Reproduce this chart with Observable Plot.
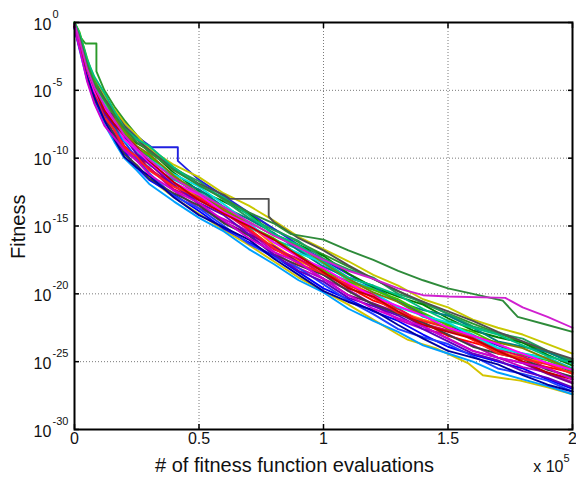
<!DOCTYPE html>
<html>
<head>
<meta charset="utf-8">
<script src="https://cdn.jsdelivr.net/npm/d3@7"></script>
<script src="https://cdn.jsdelivr.net/npm/@observablehq/plot@0.6"></script>
<style>
  html, body { margin: 0; padding: 0; background: #fff; }
  #chart { width: 576px; height: 485px; overflow: hidden; }
</style>
</head>
<body>
<div id="chart"></div>
<script>
// x: number of fitness function evaluations
const evals = [0, 2000, 5000, 8000, 12000, 16000, 20000, 25000, 30000, 40000, 50000, 60000, 70000, 80000, 90000, 100000, 110000, 120000, 130000, 140000, 150000, 160000, 170000, 180000, 190000, 200000];

// each run: log10(fitness) at each entry of evals
const runs = [
  [0, -0.8, -2.8, -4.1, -5.4, -6.4, -7.4, -8.3, -9.3, -10.5, -11.4, -12.6, -13.5, -14.6, -15.8, -16.7, -17.6, -18.6, -19.4, -20.4, -21.0, -21.9, -22.5, -23.0, -23.7, -24.4],
  [-0.3, -1.7, -4.0, -5.8, -7.3, -8.2, -9.5, -10.7, -11.6, -12.7, -13.9, -15.2, -16.2, -17.2, -18.4, -19.6, -20.4, -21.3, -22.0, -23.0, -23.9, -24.5, -25.0, -25.5, -26.3, -27.0],
  [-0.2, -1.1, -3.4, -5.2, -6.5, -7.4, -8.3, -9.5, -10.5, -11.6, -12.5, -13.7, -15.1, -16.0, -16.7, -17.8, -19.0, -19.6, -20.6, -21.7, -22.2, -23.0, -24.0, -24.4, -24.7, -25.5],
  [-0.4, -1.9, -3.7, -5.4, -7.1, -8.4, -9.3, -10.1, -10.7, -12.4, -13.7, -14.5, -15.4, -16.9, -18.1, -18.9, -19.7, -20.8, -21.9, -22.6, -23.0, -23.8, -24.7, -25.4, -25.8, -26.5],
  [-0.1, -1.0, -2.9, -4.6, -5.8, -6.7, -8.1, -8.9, -9.4, -11.1, -12.4, -13.2, -14.1, -15.6, -16.4, -17.2, -18.5, -19.5, -20.2, -20.8, -21.8, -22.7, -23.2, -23.6, -24.5, -25.3],
  [-0.2, -1.5, -3.9, -5.2, -6.3, -7.7, -9.1, -9.9, -10.4, -12.1, -13.0, -13.8, -15.2, -16.7, -17.5, -18.2, -19.5, -20.5, -21.1, -22.1, -23.1, -23.6, -24.1, -25.0, -25.4, -25.8],
  [-0.3, -1.2, -3.1, -4.3, -5.9, -7.2, -8.0, -9.2, -10.3, -11.9, -12.8, -13.6, -14.9, -16.4, -17.6, -18.3, -19.1, -20.1, -21.3, -21.9, -22.4, -23.4, -24.3, -24.7, -25.1, -25.9],
  [-0.4, -2.0, -4.2, -5.9, -7.5, -8.8, -10.0, -10.9, -11.9, -13.2, -14.4, -15.4, -16.7, -17.8, -19.0, -19.9, -21.1, -22.0, -22.8, -23.8, -24.4, -25.0, -25.8, -26.3, -26.8, -27.4],
  [-0.1, -0.9, -3.2, -4.4, -5.6, -6.9, -7.7, -8.5, -9.6, -10.8, -11.7, -13.1, -14.4, -15.3, -16.1, -17.4, -18.2, -18.8, -20.0, -20.6, -21.5, -22.4, -22.9, -23.3, -24.2, -24.9],
  [-0.3, -1.6, -3.6, -5.0, -6.1, -7.0, -8.4, -9.7, -10.8, -12.0, -13.4, -14.7, -15.6, -16.5, -17.7, -18.9, -20.1, -20.7, -21.4, -22.4, -23.3, -24.2, -24.7, -25.1, -25.9, -26.6],
  [-0.2, -1.0, -3.3, -4.7, -6.4, -7.7, -8.6, -9.3, -9.9, -11.5, -12.3, -13.6, -14.5, -15.5, -16.8, -18.0, -18.8, -19.4, -20.6, -21.2, -21.6, -22.5, -23.5, -23.9, -24.3, -25.1],
  [-0.4, -1.8, -4.1, -5.4, -6.6, -7.9, -8.8, -10.0, -11.1, -12.8, -13.7, -15.0, -16.3, -17.3, -18.1, -19.3, -20.5, -21.5, -22.6, -23.2, -23.7, -24.6, -25.5, -25.9, -26.4, -27.2],
  [0, -0.7, -2.6, -4.3, -5.9, -6.8, -8.1, -9.3, -9.8, -11.4, -12.8, -13.7, -15.0, -15.9, -17.1, -18.3, -19.1, -19.7, -20.4, -21.4, -22.3, -22.8, -23.7, -24.5, -24.9, -25.7],
  [-0.3, -1.4, -3.2, -4.9, -6.6, -8.0, -9.4, -10.2, -10.7, -12.3, -13.1, -14.0, -15.3, -16.7, -17.4, -18.6, -19.4, -20.0, -21.1, -22.2, -22.7, -23.2, -24.1, -24.6, -25.5, -26.2],
  [-0.2, -1.7, -4.0, -5.7, -6.9, -8.3, -9.7, -10.5, -11.5, -12.6, -13.5, -14.8, -15.7, -17.1, -17.9, -18.6, -19.8, -20.8, -21.5, -22.1, -23.0, -23.9, -24.4, -24.8, -25.6, -26.1],
  [-0.1, -1.1, -3.0, -4.8, -6.0, -7.3, -8.7, -9.5, -10.1, -11.2, -12.1, -13.4, -14.8, -16.2, -17.0, -17.7, -18.9, -19.9, -21.0, -21.6, -22.1, -23.1, -24.0, -24.4, -24.8, -25.6],
  [-0.4, -1.8, -3.8, -5.1, -6.7, -7.6, -8.4, -9.7, -10.4, -12.0, -13.3, -14.2, -15.6, -17.1, -18.3, -19.1, -20.3, -20.9, -21.6, -22.6, -23.5, -24.4, -24.9, -25.7, -26.2, -26.9],
  [-0.2, -1.3, -3.6, -5.3, -7.0, -7.9, -9.2, -9.9, -10.9, -12.1, -12.9, -13.8, -15.2, -16.6, -17.8, -18.5, -19.3, -20.3, -21.4, -22.0, -22.5, -23.4, -24.4, -24.8, -25.2, -25.9],
  [-0.1, -0.9, -3.1, -4.8, -6.3, -7.1, -7.9, -9.1, -9.7, -11.3, -12.6, -13.9, -14.7, -15.7, -16.5, -17.7, -18.9, -19.9, -20.6, -21.6, -22.6, -23.1, -23.6, -24.0, -24.8, -25.6],
  [-0.3, -1.5, -3.8, -5.5, -7.2, -8.6, -9.9, -10.7, -11.3, -12.9, -14.2, -15.1, -16.0, -17.4, -18.6, -19.8, -20.6, -21.2, -22.3, -23.3, -24.2, -24.7, -25.2, -26.0, -26.7, -27.2],
  [-0.2, -1.2, -3.5, -5.1, -6.3, -7.3, -8.6, -9.4, -10.3, -11.8, -12.7, -14.0, -14.9, -16.2, -17.3, -18.1, -19.2, -20.2, -20.9, -21.6, -22.5, -23.1, -23.7, -24.4, -25.1, -25.6],
  [-0.3, -1.6, -3.5, -4.8, -6.5, -7.5, -8.3, -9.2, -10.2, -11.8, -13.1, -14.1, -15.0, -16.0, -17.2, -18.4, -19.6, -20.2, -21.3, -22.3, -22.8, -23.3, -24.2, -25.0, -25.8, -26.3],
  [0, -0.8, -2.7, -4.0, -5.2, -6.5, -7.8, -8.6, -9.1, -10.7, -12.0, -12.9, -14.2, -15.6, -16.4, -17.6, -18.8, -19.4, -20.1, -21.1, -22.0, -22.5, -23.0, -23.8, -24.6, -25.1],
  [-0.4, -1.9, -4.3, -6.0, -7.6, -8.5, -9.4, -10.2, -11.2, -12.4, -13.3, -14.6, -15.9, -16.9, -17.7, -18.9, -20.1, -21.1, -21.8, -22.4, -23.3, -24.2, -24.7, -25.1, -25.5, -26.3]
];

const runColors = [
  "#c8c800", "#0000ff", "#00bfbf", "#bf00bf", "#008000", "#ff0000", "#ff8000", "#00a0ff",
  "#20a060", "#800080", "#008080", "#2040ff", "#40c000", "#e00060", "#404040", "#00e0e0",
  "#6000c0", "#ff2020", "#808000", "#0000a0", "#ff00ff", "#c00000", "#00c080", "#d000d0"
];

// runs with their own evaluation points (plateaus / outliers)
const plateauGrayEvals = [0, 2000, 5000, 8000, 12000, 16000, 20000, 25000, 30000, 40000, 50000, 60000, 62500, 78000, 78000, 80000, 90000, 100000, 110000, 120000, 130000, 140000, 150000, 160000, 170000, 180000, 190000, 200000];
const plateauGrayRun   = [-0.1, -1.1, -3.0, -4.3, -5.6, -6.6, -7.6, -8.6, -9.4, -10.8, -11.9, -12.7, -13.0, -13.0, -14.3, -14.7, -15.9, -16.8, -17.9, -18.9, -19.8, -20.6, -21.3, -22.0, -22.8, -23.5, -24.2, -24.8];

const plateauGreenEvals = [0, 2000, 4400, 8800, 8800, 12000, 16000, 20000, 25000, 30000, 40000, 50000, 60000, 70000, 80000, 90000, 100000, 120000, 140000, 160000, 180000, 200000];
const plateauGreenRun   = [0, -1.0, -1.55, -1.55, -3.6, -5.0, -6.2, -7.2, -8.3, -9.2, -10.7, -11.9, -13.0, -14.1, -15.2, -16.2, -17.1, -18.9, -20.7, -22.2, -23.6, -25.0];

const plateauBlueEvals = [0, 2000, 5000, 8000, 12000, 16000, 20000, 25000, 31000, 41500, 41500, 50000, 60000, 70000, 80000, 90000, 100000, 120000, 140000, 160000, 180000, 200000];
const plateauBlueRun   = [-0.1, -1.1, -3.0, -4.2, -5.4, -6.5, -7.4, -8.4, -9.2, -9.2, -10.2, -11.6, -12.8, -14.0, -15.2, -16.4, -17.5, -19.6, -21.5, -23.1, -24.5, -25.8];

const bottomYellowEvals = [0, 2000, 5000, 8000, 12000, 16000, 20000, 25000, 30000, 40000, 50000, 60000, 70000, 80000, 90000, 100000, 110000, 120000, 130000, 134000, 145000, 158000, 164000, 179000, 190000, 200000];
const bottomYellowRun   = [-0.3, -1.8, -3.9, -5.6, -7.2, -8.5, -9.6, -10.6, -11.5, -12.9, -14.1, -15.3, -16.4, -17.6, -18.8, -19.8, -20.8, -21.9, -23.0, -23.4, -24.0, -25.1, -26.0, -26.4, -26.9, -27.4];

const topGreenEvals = [0, 2000, 5000, 8000, 12000, 16000, 20000, 25000, 30000, 40000, 50000, 60000, 70000, 80000, 87000, 100000, 110000, 120000, 130000, 140000, 150000, 160000, 172000, 178000, 190000, 200000];
const topGreenRun   = [-0.1, -1.0, -3.0, -4.5, -5.7, -6.8, -7.8, -8.8, -9.5, -10.9, -12.0, -13.0, -14.0, -14.8, -15.6, -16.0, -16.8, -17.5, -18.3, -19.0, -19.6, -20.0, -20.5, -21.7, -22.3, -22.8];

const topMagentaEvals = [0, 2000, 5000, 8000, 12000, 16000, 20000, 25000, 30000, 40000, 50000, 60000, 70000, 80000, 90000, 100000, 110000, 120000, 130000, 140000, 150000, 173000, 180000, 190000, 200000];
const topMagentaRun   = [-0.1, -1.3, -3.4, -4.8, -6.1, -7.2, -8.3, -9.3, -10.1, -11.5, -12.6, -13.6, -14.7, -15.7, -16.6, -17.5, -18.3, -18.9, -19.6, -20.1, -20.2, -20.3, -21.0, -21.7, -22.5];

const specialColors = ["#2a9a2a", "#2020e0", "#505050", "#d4c400", "#2e8b3a", "#d020d0"];

const xTicks = [0, 50000, 100000, 150000, 200000];
const xGrid = [50000, 100000, 150000];
const yExps = [0, -5, -10, -15, -20, -25, -30];
const yGridExps = [-5, -10, -15, -20, -25];

const toPts = (xs, ys) => ys.map((e, j) => ({x: xs[j], y: Math.pow(10, e)}));
const lw = 1.9;

const lineMarks = [];
lineMarks.push(Plot.line(toPts(plateauGreenEvals, plateauGreenRun), {x: "x", y: "y", stroke: specialColors[0], strokeWidth: lw}));
lineMarks.push(Plot.line(toPts(plateauBlueEvals, plateauBlueRun), {x: "x", y: "y", stroke: specialColors[1], strokeWidth: lw}));
lineMarks.push(Plot.line(toPts(bottomYellowEvals, bottomYellowRun), {x: "x", y: "y", stroke: specialColors[3], strokeWidth: lw}));
runs.forEach((r, i) => {
  if (i === 12) {
    lineMarks.push(Plot.line(toPts(plateauGrayEvals, plateauGrayRun), {x: "x", y: "y", stroke: specialColors[2], strokeWidth: lw}));
  }
  lineMarks.push(Plot.line(toPts(evals, r), {x: "x", y: "y", stroke: runColors[i % runColors.length], strokeWidth: lw}));
});
lineMarks.push(Plot.line(toPts(topGreenEvals, topGreenRun), {x: "x", y: "y", stroke: specialColors[4], strokeWidth: lw}));
lineMarks.push(Plot.line(toPts(topMagentaEvals, topMagentaRun), {x: "x", y: "y", stroke: specialColors[5], strokeWidth: lw}));

const font = "'Liberation Sans', Arial, Helvetica, sans-serif";

const chart = Plot.plot({
  width: 576,
  height: 485,
  marginLeft: 74,
  marginRight: 4,
  marginTop: 22,
  marginBottom: 56,
  style: {fontFamily: font, fontSize: "16px", background: "#fff", color: "#000"},
  x: {domain: [0, 200000], axis: null},
  y: {type: "log", domain: [1e-30, 1], axis: null},
  marks: [
    Plot.ruleX(xGrid, {x: d => d, stroke: "#7a7a7a", strokeDasharray: "1,2", strokeWidth: 1}),
    Plot.ruleY(yGridExps, {y: d => Math.pow(10, d), stroke: "#7a7a7a", strokeDasharray: "1,2", strokeWidth: 1}),
    ...lineMarks,
    Plot.axisX({anchor: "bottom", ticks: xTicks, tickSize: -5, tickFormat: () => "", label: null, strokeWidth: 1.5}),
    Plot.axisX({anchor: "top", ticks: xTicks, tickSize: -5, tickFormat: () => "", label: null, strokeWidth: 1.5}),
    Plot.axisY({anchor: "left", ticks: yExps.map(e => Math.pow(10, e)), tickSize: -5, tickFormat: () => "", label: null, strokeWidth: 1.5}),
    Plot.axisY({anchor: "right", ticks: yExps.map(e => Math.pow(10, e)), tickSize: -5, tickFormat: () => "", label: null, strokeWidth: 1.5}),
    Plot.frame({stroke: "#000", strokeWidth: 2}),
    // y tick labels: 10 with superscript exponent
    Plot.text(yExps, {y: d => Math.pow(10, d), frameAnchor: "left", dx: -41, dy: 2, textAnchor: "start", text: () => "10", fontSize: 16, fill: "#111"}),
    Plot.text(yExps, {y: d => Math.pow(10, d), frameAnchor: "left", dx: -22, dy: -8, textAnchor: "start", text: d => String(d), fontSize: 11, fill: "#111"}),
    // x tick labels
    Plot.text(xTicks, {x: d => d, frameAnchor: "bottom", dy: 14, text: d => String(d / 100000), fontSize: 16, fill: "#111"}),
    // x multiplier
    Plot.text(["x 10"], {frameAnchor: "bottom-right", dx: -9, dy: 42, textAnchor: "end", text: d => d, fontSize: 16, fill: "#111"}),
    Plot.text(["5"], {frameAnchor: "bottom-right", dx: -9, dy: 32, textAnchor: "start", text: d => d, fontSize: 11, fill: "#111"}),
    // axis labels
    Plot.text(["# of fitness function evaluations"], {frameAnchor: "bottom", dx: -29, dy: 42, text: d => d, fontSize: 20, fill: "#111"}),
    Plot.text(["Fitness"], {frameAnchor: "left", dx: -56, dy: 33, rotate: -90, text: d => d, fontSize: 20, fill: "#111"})
  ]
});

document.getElementById("chart").appendChild(chart);
</script>
</body>
</html>
